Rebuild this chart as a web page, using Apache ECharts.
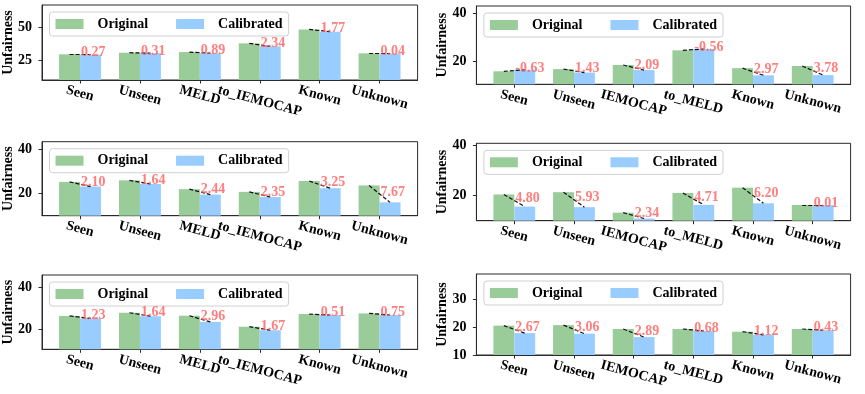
<!DOCTYPE html>
<html>
<head>
<meta charset="utf-8">
<script src="https://cdn.jsdelivr.net/npm/echarts@6/dist/echarts.min.js"></script>
<style>
html,body{margin:0;padding:0;background:#fff;}
#chart{width:865px;height:394px;}
</style>
</head>
<body>
<div id="chart"></div>
<script>
// ---------- data ----------
const seriesNames = ['Original', 'Calibrated'];
const categoriesLeft = ['Seen', 'Unseen', 'MELD', 'to_IEMOCAP', 'Known', 'Unknown'];
const categoriesRight = ['Seen', 'Unseen', 'IEMOCAP', 'to_MELD', 'Known', 'Unknown'];

const p1Original   = [29.5, 30.7, 31.2, 37.8, 48.4, 30.2];
const p1Calibrated = [29.23, 30.39, 30.31, 35.46, 46.63, 30.16];
const p1Labels     = ['0.27', '0.31', '0.89', '2.34', '1.77', '0.04'];
const p1Range = [10, 66.9];
const p1Ticks = [25, 50];

const p2Original   = [15.9, 16.8, 18.5, 24.6, 17.2, 18.1];
const p2Calibrated = [16.53, 15.37, 16.41, 25.16, 14.23, 14.32];
const p2Labels     = ['-0.63', '1.43', '2.09', '-0.56', '2.97', '3.78'];
const p2Range = [10.5, 43];
const p2Ticks = [20, 40];

const p3Original   = [25.3, 26.0, 22.0, 20.8, 25.7, 23.7];
const p3Calibrated = [23.2, 24.36, 19.56, 18.45, 22.45, 16.03];
const p3Labels     = ['2.10', '1.64', '2.44', '2.35', '3.25', '7.67'];
const p3Range = [10, 43.5];
const p3Ticks = [20, 40];

const p4Original   = [20.4, 21.3, 13.2, 21.0, 23.1, 16.25];
const p4Calibrated = [15.6, 15.37, 10.86, 16.29, 16.9, 16.24];
const p4Labels     = ['4.80', '5.93', '2.34', '4.71', '6.20', '0.01'];
const p4Range = [10, 40.7];
const p4Ticks = [20, 40];

const p5Original   = [26.4, 27.9, 26.5, 21.26, 27.3, 27.6];
const p5Calibrated = [25.17, 26.26, 23.54, 19.59, 26.79, 26.85];
const p5Labels     = ['1.23', '1.64', '2.96', '1.67', '0.51', '0.75'];
const p5Range = [10.5, 45.9];
const p5Ticks = [20, 40];

const p6Original   = [20.5, 20.7, 19.3, 19.3, 18.35, 19.3];
const p6Calibrated = [17.83, 17.64, 16.41, 18.62, 17.23, 18.87];
const p6Labels     = ['2.67', '3.06', '2.89', '0.68', '1.12', '0.43'];
const p6Range = [10, 39];
const p6Ticks = [10, 20, 30];

// ---------- layout / style ----------
const FONT = '"Liberation Serif", "Times New Roman", serif';
const GREEN = '#99cc99', BLUE = '#99ccff', RED = '#ff5e5e', FRAME = '#2a2a2a';
const BARW = 0.35;
const grids = [
  {left: 42, top: 5, width: 375.6, height: 75},
  {left: 476.4, top: 6, width: 374.2, height: 78.3},
  {left: 42, top: 141.7, width: 375.6, height: 74},
  {left: 476.4, top: 143.3, width: 374.2, height: 77.4},
  {left: 42, top: 275, width: 375.6, height: 74.3},
  {left: 476.4, top: 274, width: 374.2, height: 81}
];
const panels = [
  {cats: categoriesLeft, o: p1Original, c: p1Calibrated, lab: p1Labels, range: p1Range, ticks: p1Ticks},
  {cats: categoriesRight, o: p2Original, c: p2Calibrated, lab: p2Labels, range: p2Range, ticks: p2Ticks},
  {cats: categoriesLeft, o: p3Original, c: p3Calibrated, lab: p3Labels, range: p3Range, ticks: p3Ticks},
  {cats: categoriesRight, o: p4Original, c: p4Calibrated, lab: p4Labels, range: p4Range, ticks: p4Ticks},
  {cats: categoriesLeft, o: p5Original, c: p5Calibrated, lab: p5Labels, range: p5Range, ticks: p5Ticks},
  {cats: categoriesRight, o: p6Original, c: p6Calibrated, lab: p6Labels, range: p6Range, ticks: p6Ticks}
];

const mctx = document.createElement('canvas').getContext('2d');
mctx.font = 'bold 14px ' + FONT;
function tw(t) { return mctx.measureText(t).width; }
const TH = 15 * Math.PI / 180;
function catRich(cats) {
  const rich = {};
  const w0 = tw('Seen');
  cats.forEach((c, i) => {
    const D = Math.max(0, (tw(c) - w0) * Math.sin(TH) / 2);
    rich['r' + i] = {
      fontFamily: FONT, fontWeight: 'bold', fontSize: 14, color: '#000',
      padding: [2 * D * Math.cos(TH), 0, 0, 2 * D * Math.sin(TH)]
    };
  });
  return rich;
}

const option = {
  backgroundColor: '#fff',
  animation: false,
  grid: [], xAxis: [], yAxis: [], legend: [], series: []
};

panels.forEach((p, k) => {
  const g = grids[k];
  const idx = p.cats.map((_, i) => i);
  option.grid.push(Object.assign({show: true, borderColor: FRAME, borderWidth: 1, containLabel: false, outerBoundsMode: 'none'}, g));
  option.xAxis.push({
    type: 'value', gridIndex: k, min: -0.635, max: p.cats.length - 1 + 0.635,
    splitLine: {show: false},
    axisLine: {show: true, onZero: false, lineStyle: {color: FRAME, width: 1}},
    axisTick: {show: true, length: 3.5, customValues: idx, lineStyle: {color: FRAME}},
    axisLabel: {
      customValues: idx, rotate: -15, align: 'center', verticalAlign: 'middle', margin: 13.5,
      formatter: (v) => '{r' + Math.round(v) + '|' + p.cats[Math.round(v)] + '}',
      rich: catRich(p.cats),
      fontFamily: FONT, fontWeight: 'bold', fontSize: 14, color: '#000'
    }
  });
  option.yAxis.push({
    type: 'value', gridIndex: k, min: p.range[0], max: p.range[1],
    name: 'Unfairness', nameLocation: 'middle', nameGap: 27, nameMoveOverlap: false,
    nameTextStyle: {fontFamily: FONT, fontWeight: 'bold', fontSize: 14, color: '#000'},
    splitLine: {show: false},
    axisLine: {show: true, onZero: false, lineStyle: {color: FRAME, width: 1}},
    axisTick: {show: true, length: 3.5, customValues: p.ticks, lineStyle: {color: FRAME}},
    axisLabel: {customValues: p.ticks, margin: 10, fontFamily: FONT, fontWeight: 'bold', fontSize: 14, color: '#000'}
  });
  option.legend.push({
    data: seriesNames,
    left: g.left + 7.5, top: g.top + 7,
    orient: 'horizontal',
    itemWidth: 28, itemHeight: 10, itemGap: 28, icon: 'rect',
    padding: [5, 6, 5, 6],
    backgroundColor: 'rgba(255,255,255,0.8)', borderColor: '#d0d0d0', borderWidth: 1, borderRadius: 3,
    textStyle: {fontFamily: FONT, fontWeight: 'bold', fontSize: 14, color: '#000', padding: [0, 0, 0, 9]},
    selectedMode: false
  });
  option.series.push({
    name: seriesNames[0], type: 'bar', xAxisIndex: k, yAxisIndex: k,
    data: p.o.map((v, i) => [i, v]), barWidth: (BARW * 100) + '%', barGap: '0%',
    itemStyle: {color: GREEN}, z: 2
  });
  option.series.push({
    name: seriesNames[1], type: 'bar', xAxisIndex: k, yAxisIndex: k,
    data: p.c.map((v, i) => [i, v]), barWidth: (BARW * 100) + '%', barGap: '0%',
    itemStyle: {color: BLUE}, z: 2
  });
  option.series.push({
    type: 'lines', coordinateSystem: 'cartesian2d', xAxisIndex: k, yAxisIndex: k,
    data: p.o.map((v, i) => ({coords: [[i - BARW / 2, v], [i + BARW / 2, p.c[i]]]})),
    lineStyle: {color: '#111', width: 1.2, type: [4, 2], opacity: 1, curveness: 0},
    silent: true, z: 3
  });
  option.series.push({
    type: 'scatter', xAxisIndex: k, yAxisIndex: k,
    data: p.o.map((v, i) => [i, (v + p.c[i]) / 2]),
    symbol: 'circle', symbolSize: 1, itemStyle: {color: 'rgba(0,0,0,0)'}, silent: true, z: 4,
    label: {
      show: true, position: 'right', distance: 0.5, offset: [0, -2],
      formatter: (d) => p.lab[d.dataIndex],
      fontFamily: FONT, fontWeight: 'bold', fontSize: 14, color: RED
    }
  });
});

const chart = echarts.init(document.getElementById('chart'), null, {renderer: 'canvas'});
chart.setOption(option);
</script>
</body>
</html>
